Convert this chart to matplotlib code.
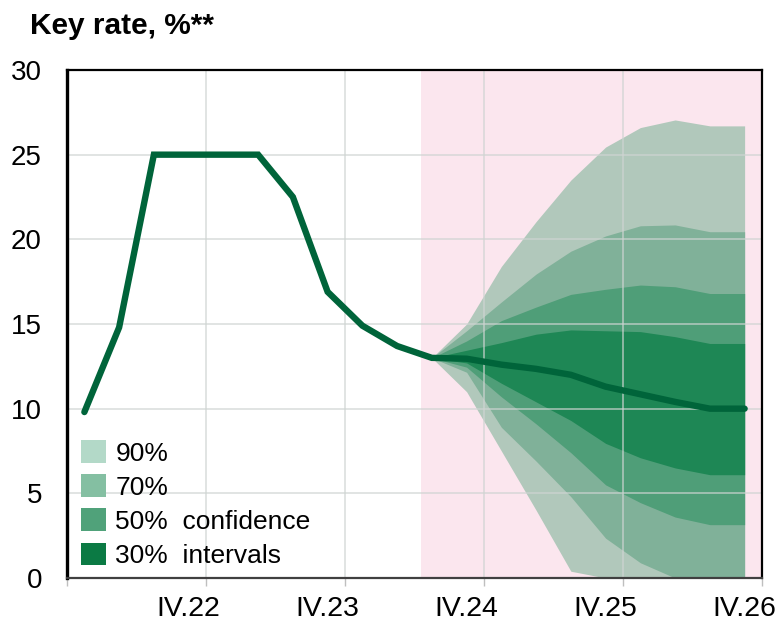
import numpy as np
import matplotlib
matplotlib.use("Agg")
import matplotlib.pyplot as plt
from matplotlib.patches import Patch

plt.rcParams["font.family"] = ["Liberation Sans", "DejaVu Sans"]

# DATA — quarterly key rate, I.22 … IV.26 (index 0 = I.22)
hist_rate = [9.8, 14.8, 25.0, 25.0, 25.0, 25.0, 22.5, 16.9, 14.9, 13.7, 13.0]
fc_center = [13.0, 12.95, 12.6, 12.35, 12.0, 11.3, 10.85, 10.4, 10.0, 10.0]

# fan bands, forecast quarters III.24 … IV.26
up_90 = [13.0, 15.0, 18.4, 21.05, 23.5, 25.45, 26.6, 27.05, 26.7, 26.7]
up_70 = [13.0, 14.6, 16.3, 17.95, 19.3, 20.2, 20.8, 20.85, 20.45, 20.45]
up_50 = [13.0, 14.0, 15.2, 16.0, 16.75, 17.05, 17.3, 17.2, 16.8, 16.8]
up_30 = [13.0, 13.45, 13.9, 14.4, 14.65, 14.6, 14.55, 14.25, 13.85, 13.85]
lo_30 = [13.0, 12.7, 11.5, 10.4, 9.3, 7.95, 7.1, 6.5, 6.1, 6.1]
lo_50 = [13.0, 12.45, 10.7, 9.1, 7.4, 5.5, 4.45, 3.6, 3.15, 3.15]
lo_70 = [13.0, 12.15, 8.9, 6.9, 4.8, 2.35, 0.9, 0.0, 0.0, 0.0]
lo_90 = [13.0, 11.0, 7.5, 4.0, 0.4, 0.0, 0.0, 0.0, 0.0, 0.0]

year_labels = ["IV.22", "IV.23", "IV.24", "IV.25", "IV.26"]
band_labels = ["90%", "70%", "50%  confidence", "30%  intervals"]
y_ticks = [0, 5, 10, 15, 20, 25, 30]

# STYLE
LINE_COLOR = "#00643a"
FAN_COLORS = ["#b1c8bb", "#80b199", "#4f9e78", "#1e8755"]
LEG_COLORS = ["#b3d9c8", "#84bfa2", "#50a27a", "#0b7a44"]
PINK = "#fbe6ee"
GRID = "#cfd4d2"

n_hist = len(hist_rate)
x_hist = np.arange(n_hist)
x_fc = np.arange(n_hist - 1, n_hist - 1 + len(fc_center))
x_all = np.concatenate([x_hist, x_fc[1:]])
y_all = hist_rate + fc_center[1:]

fig = plt.figure(figsize=(7.82, 6.26), dpi=100)
ax = fig.add_axes([67 / 782, 48 / 626, 695 / 782, 508 / 626])

ax.axvspan(9.7, 19.5, color=PINK, lw=0, zorder=0)

bands = [(lo_90, up_90), (lo_70, up_70), (lo_50, up_50), (lo_30, up_30)]
for (lo, up), c in zip(bands, FAN_COLORS):
    ax.fill_between(x_fc, lo, up, color=c, lw=0, zorder=1)

ax.plot(x_all, y_all, color=LINE_COLOR, lw=4.6, solid_capstyle="round",
        solid_joinstyle="miter", zorder=4)

ax.set_xlim(-0.5, 19.5)
ax.set_ylim(0, 30)

# year boundaries: tick marks + vertical grid; labels centred on Q4
ax.set_xticks(np.arange(-0.5, 20, 4))
ax.set_xticklabels([])
ax.set_xticks(np.arange(3, 20, 4), minor=True)
ax.set_xticklabels(year_labels, minor=True, fontsize=20.5)
ax.tick_params(axis="x", which="major", length=6, width=1, color="#bfbfbf",
               direction="out")
ax.tick_params(axis="x", which="minor", length=0, pad=13)

ax.set_yticks(y_ticks)
ax.set_yticklabels([str(v) for v in y_ticks], fontsize=20)
ax.tick_params(axis="y", length=0, pad=18)

for xv in np.arange(3.5, 19, 4):
    ax.axvline(xv, color=GRID, lw=1.1, alpha=0.8, zorder=2)
for yv in y_ticks[1:-1]:
    ax.axhline(yv, color=GRID, lw=1.1, alpha=0.8, zorder=2)

ax.spines["left"].set_linewidth(2.4)
ax.spines["top"].set_linewidth(1.6)
ax.spines["right"].set_linewidth(1.6)
ax.spines["bottom"].set_color("#404040")
ax.spines["bottom"].set_linewidth(1.6)
ax.spines["bottom"].set_linestyle((0, (1, 1)))
for s in ax.spines.values():
    s.set_zorder(5)

handles = [Patch(facecolor=c, edgecolor="none") for c in LEG_COLORS]
ax.legend(handles, band_labels, loc="lower left",
          bbox_to_anchor=(14 / 695, 10 / 508), frameon=False, fontsize=19,
          handlelength=0.95, handleheight=0.95, handletextpad=0.35,
          labelspacing=0.33, borderpad=0, borderaxespad=0)

fig.text(30 / 782, 1 - 26 / 626, "Key rate, %**", fontsize=21.5,
         fontweight="bold", va="center", ha="left")

fig.savefig("out.png", dpi=100)
